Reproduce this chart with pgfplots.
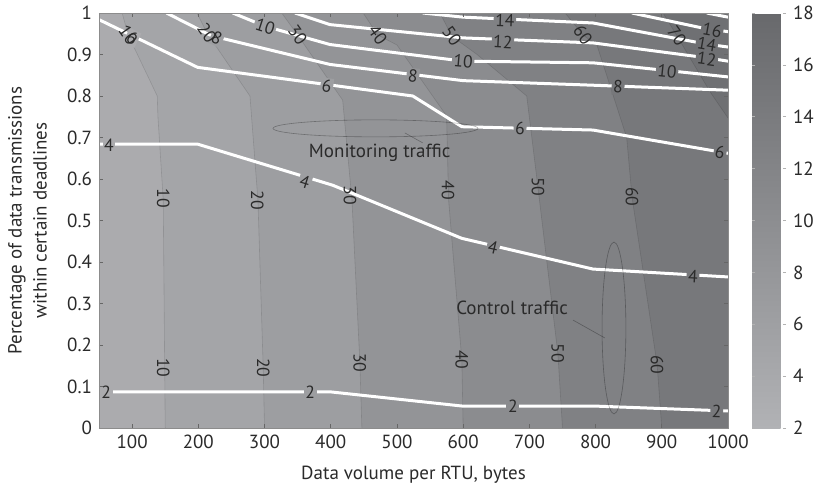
\documentclass[border=0pt]{standalone}
\usepackage{fontspec}
\setmainfont{PT Sans}
\usepackage{pgfplots}
\pgfplotsset{compat=1.18}
\definecolor{c1}{HTML}{ABABAE}
\definecolor{c2}{HTML}{A4A5A8}
\definecolor{c3}{HTML}{9D9EA1}
\definecolor{c4}{HTML}{939497}
\definecolor{c5}{HTML}{8B8C8F}
\definecolor{c6}{HTML}{808184}
\definecolor{c7}{HTML}{77787B}
\definecolor{c8}{HTML}{6F7073}
\definecolor{txt}{HTML}{2A2A2A}
\tikzset{
  mlab/.style={font=\fontsize{8.8}{9}\selectfont, text=txt, inner sep=0.8pt},
  clab/.style={font=\fontsize{8.8}{9}\selectfont, text=txt, inner sep=0pt},
  cline/.style={black, opacity=0.12, line width=0.3pt},
}
\begin{document}
\begin{tikzpicture}
\begin{axis}[
  name=ax,
  scale only axis, width=314.5pt, height=207.5pt,
  xmin=50, xmax=1000, ymin=0, ymax=1,
  xtick={100,200,300,400,500,600,700,800,900,1000},
  ytick={0,0.1,0.2,0.3,0.4,0.5,0.6,0.7,0.8,0.9,1},
  yticklabels={0,0.1,0.2,0.3,0.4,0.5,0.6,0.7,0.8,0.9,1},
  axis on top,
  tick align=inside,
  major tick length=2pt,
  tick style={black!60, line width=0.3pt},
  axis line style={black!45, line width=0.3pt},
  /pgf/number format/assume math mode=true,
  /pgf/number format/1000 sep={},
  ticklabel style={font=\fontsize{9.5}{11}\selectfont, text=txt},
  xlabel={Data volume per RTU, bytes},
  ylabel={Percentage of data transmissions\\within certain deadlines},
  xlabel style={font=\fontsize{9.5}{11}\selectfont, text=txt, at={(axis description cs:0.5,-0.112)}, anchor=center},
  ylabel style={font=\fontsize{9.5}{12.5}\selectfont, text=txt, align=center, at={(axis description cs:-0.1137,0.5)}, anchor=center},
  colorbar,
  colormap={grays}{rgb255=(177,178,181) rgb255=(104,105,108)},
  point meta min=2, point meta max=18,
  colorbar style={
    at={(parent axis.north east)}, anchor=north west, xshift=3.5pt,
    width=17pt,
    ytick={2,4,6,8,10,12,14,16,18},
    tick align=inside, major tick length=1.5pt,
    tick style={black!30, line width=0.3pt},
    axis line style={draw=none},
    /pgf/number format/assume math mode=true,
    yticklabel style={font=\fontsize{9.5}{11}\selectfont, text=txt},
  },
]
% background bands (control traffic, filled contours)
\addplot[draw=none, fill=c1, forget plot] coordinates {(50,0) (1000,0) (1000,1) (50,1)} -- cycle;
\addplot[draw=none, fill=c2, forget plot] coordinates {(150,0) (147,0.55) (139,0.75) (138,0.80) (94,0.947) (85,1.0) (1000,1) (1000,0)} -- cycle;
\addplot[draw=none, fill=c3, forget plot] coordinates {(300,0) (298,0.145) (290,0.55) (278,0.80) (213,0.952) (198,1.0) (1000,1) (1000,0)} -- cycle;
\addplot[draw=none, fill=c4, forget plot] coordinates {(447,0) (444,0.157) (432,0.55) (418,0.79) (350,0.947) (326,1.0) (1000,1) (1000,0)} -- cycle;
\addplot[draw=none, fill=c5, forget plot] coordinates {(600,0) (598,0.164) (578,0.55) (575,0.752) (500,0.923) (471,0.947) (449,1.0) (1000,1) (1000,0)} -- cycle;
\addplot[draw=none, fill=c6, forget plot] coordinates {(750,0) (743,0.18) (711,0.605) (696,0.80) (621,0.9) (583,0.944) (565,1.0) (1000,1) (1000,0)} -- cycle;
\addplot[draw=none, fill=c7, forget plot] coordinates {(900,0) (893,0.152) (855,0.557) (847,0.70) (802,0.923) (781,0.947) (754,1.0) (1000,1) (1000,0)} -- cycle;
\addplot[draw=none, fill=c8, forget plot] coordinates {(902,1.0) (923,0.945) (973,0.81) (1000,0.747) (1000,1)} -- cycle;
% control contour lines
\addplot[cline] coordinates {(150,0) (147,0.55) (139,0.75) (138,0.80) (94,0.947) (85,1.0)};
\addplot[cline] coordinates {(300,0) (298,0.145) (290,0.55) (278,0.80) (213,0.952) (198,1.0)};
\addplot[cline] coordinates {(447,0) (444,0.157) (432,0.55) (418,0.79) (350,0.947) (326,1.0)};
\addplot[cline] coordinates {(600,0) (598,0.164) (578,0.55) (575,0.752) (500,0.923) (471,0.947) (449,1.0)};
\addplot[cline] coordinates {(750,0) (743,0.18) (711,0.605) (696,0.80) (621,0.9) (583,0.944) (565,1.0)};
\addplot[cline] coordinates {(900,0) (893,0.152) (855,0.557) (847,0.70) (802,0.923) (781,0.947) (754,1.0)};
\addplot[cline] coordinates {(902,1.0) (923,0.945) (973,0.81) (1000,0.747)};
% monitoring contour lines
\addplot[white, line width=1.5pt] coordinates {(50,0.087) (400,0.087) (598,0.053) (796,0.053) (1000,0.041)};
\addplot[white, line width=1.5pt] coordinates {(50,0.684) (199,0.684) (403,0.585) (598,0.457) (796,0.383) (1000,0.364)};
\addplot[white, line width=1.5pt] coordinates {(50,0.984) (199,0.869) (524,0.80) (598,0.726) (796,0.718) (1000,0.662)};
\addplot[white, line width=1.5pt] coordinates {(152,1.0) (220,0.945) (399,0.876) (600,0.837) (796,0.826) (1000,0.814)};
\addplot[white, line width=1.5pt] coordinates {(252,1.0) (301,0.968) (399,0.924) (600,0.884) (796,0.88) (1000,0.846)};
\addplot[white, line width=1.5pt] coordinates {(346,1.0) (399,0.972) (600,0.94) (796,0.928) (968,0.892) (1000,0.884)};
\addplot[white, line width=1.5pt] coordinates {(539,1.0) (600,0.99) (796,0.976) (968,0.925) (1000,0.918)};
\addplot[white, line width=1.5pt] coordinates {(855,1.0) (961,0.964) (1000,0.955)};
\addplot[white, line width=1.5pt] coordinates {(968,1.0) (1000,0.99)};
% monitoring labels
\node[mlab, fill=c1] at (axis cs:61,0.085) {2};
\node[mlab, fill=c3] at (axis cs:369,0.085) {2};
\node[mlab, fill=c5] at (axis cs:675,0.053) {2};
\node[mlab, fill=c7, rotate=-2] at (axis cs:983,0.040) {2};
\node[mlab, fill=c1] at (axis cs:65,0.682) {4};
\node[mlab, fill=c3, rotate=-17] at (axis cs:361,0.593) {4};
\node[mlab, fill=c5, rotate=-13] at (axis cs:645,0.434) {4};
\node[mlab, fill=c7, rotate=-3] at (axis cs:947,0.366) {4};
\node[mlab, fill=c1, rotate=-26] at (axis cs:100,0.94) {6};
\node[mlab, fill=c3, rotate=-8] at (axis cs:394,0.824) {6};
\node[mlab, fill=c5, rotate=-1] at (axis cs:686,0.721) {6};
\node[mlab, fill=c7, rotate=-10] at (axis cs:988,0.664) {6};
\node[mlab, fill=c3, rotate=-25] at (axis cs:228,0.94) {8};
\node[mlab, fill=c4, rotate=-7] at (axis cs:524,0.848) {8};
\node[mlab, fill=c7, rotate=-3] at (axis cs:834,0.822) {8};
\node[mlab, fill=c3, rotate=-18] at (axis cs:301,0.968) {10};
\node[mlab, fill=c5, rotate=-5] at (axis cs:600,0.884) {10};
\node[mlab, fill=c7, rotate=-6] at (axis cs:908,0.86) {10};
\node[mlab, fill=c6, rotate=-3] at (axis cs:660,0.930) {12};
\node[mlab, fill=c8, rotate=-8] at (axis cs:968,0.889) {12};
\node[mlab, fill=c6, rotate=-2] at (axis cs:663,0.982) {14};
\node[mlab, fill=c8, rotate=-10] at (axis cs:968,0.925) {14};
\node[mlab, fill=c8, rotate=-10] at (axis cs:976,0.958) {16};
% control labels
\node[clab, rotate=-55] at (axis cs:94,0.947) {10};
\node[clab, rotate=-55] at (axis cs:213,0.952) {20};
\node[clab, rotate=-55] at (axis cs:350,0.947) {30};
\node[clab, rotate=-55] at (axis cs:471,0.947) {40};
\node[clab, rotate=-55] at (axis cs:583,0.944) {50};
\node[clab, rotate=-55] at (axis cs:781,0.947) {60};
\node[clab, rotate=-55] at (axis cs:923,0.945) {70};
\node[clab, rotate=-90] at (axis cs:147,0.554) {10};
\node[clab, rotate=-90] at (axis cs:289,0.549) {20};
\node[clab, rotate=-90] at (axis cs:429,0.561) {30};
\node[clab, rotate=-90] at (axis cs:577,0.573) {40};
\node[clab, rotate=-90] at (axis cs:713,0.581) {50};
\node[clab, rotate=-90] at (axis cs:855,0.557) {60};
\node[clab, rotate=-90] at (axis cs:147,0.145) {10};
\node[clab, rotate=-90] at (axis cs:298,0.145) {20};
\node[clab, rotate=-90] at (axis cs:444,0.157) {30};
\node[clab, rotate=-90] at (axis cs:598,0.164) {40};
\node[clab, rotate=-90] at (axis cs:743,0.180) {50};
\node[clab, rotate=-90] at (axis cs:893,0.152) {60};
% annotations
\draw[black, opacity=0.3, line width=0.3pt] (axis cs:467.6,0.722) ellipse [x radius=154.8, y radius=0.0205];
\draw[black, opacity=0.3, line width=0.3pt] (axis cs:512,0.711) -- (axis cs:539,0.687);
\node[font=\fontsize{9.5}{11}\selectfont, text=txt] at (axis cs:474,0.663) {Monitoring traffic};
\draw[black, opacity=0.3, line width=0.3pt] (axis cs:827.8,0.241) ellipse [x radius=18, y radius=0.207];
\draw[black, opacity=0.3, line width=0.3pt] (axis cs:766,0.26) -- (axis cs:814,0.217);
\node[font=\fontsize{9.5}{11}\selectfont, text=txt] at (axis cs:674,0.289) {Control traffic};
\end{axis}
\pgfresetboundingbox
\path[use as bounding box] ([shift={(-49.5pt,-33pt)}]ax.south west) rectangle ([shift={(359pt,214pt)}]ax.south west);
\end{tikzpicture}
\end{document}
